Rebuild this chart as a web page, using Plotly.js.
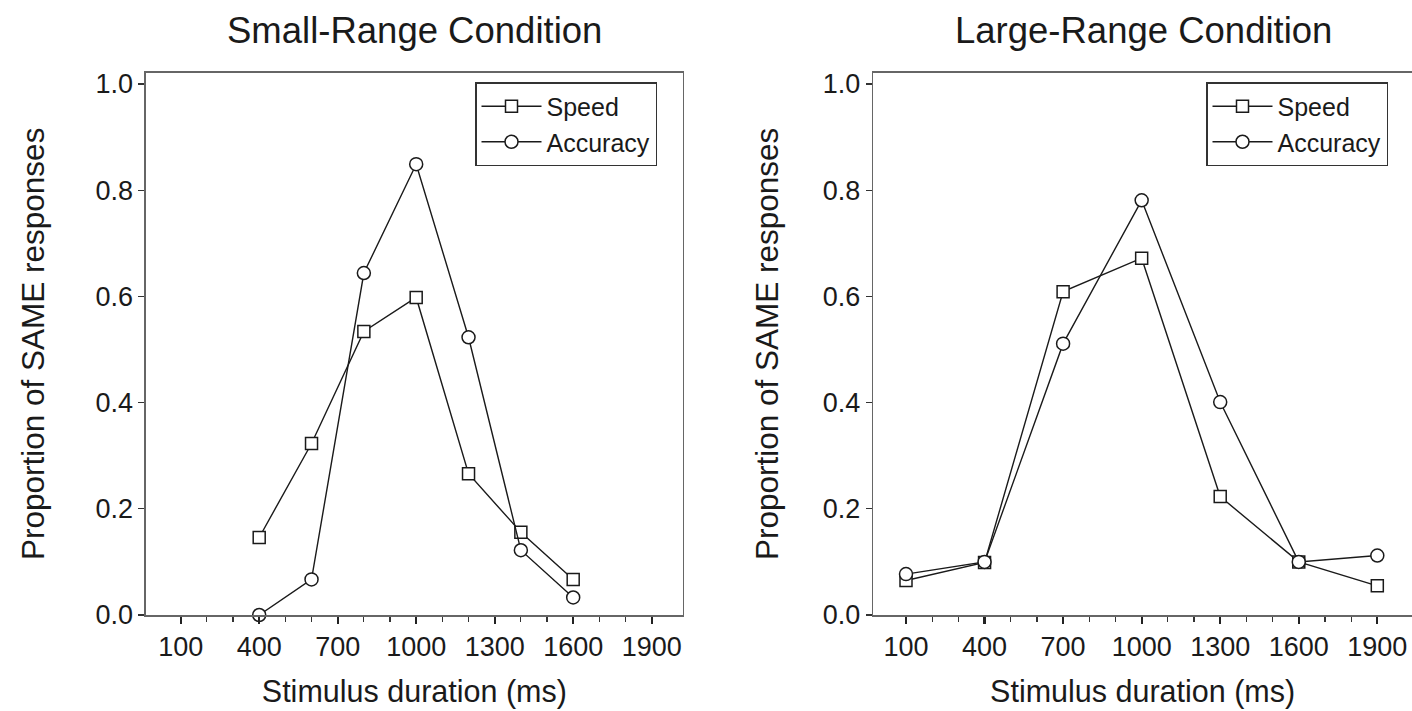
<!DOCTYPE html>
<html>
<head>
<meta charset="utf-8">
<script src="https://cdn.plot.ly/plotly-3.0.1.min.js"></script>
<style>
  html, body { margin: 0; padding: 0; background: #fff; }
  #chart { width: 1412px; height: 711px; }
</style>
</head>
<body>
<div id="chart"></div>
<script>
// ---- data ----
const xSmall = [400, 600, 800, 1000, 1200, 1400, 1600];
const speedSmall = [0.146, 0.323, 0.534, 0.598, 0.266, 0.156, 0.067];
const accuracySmall = [0.0, 0.067, 0.644, 0.849, 0.523, 0.122, 0.033];

const xLarge = [100, 400, 700, 1000, 1300, 1600, 1900];
const speedLarge = [0.065, 0.099, 0.609, 0.672, 0.223, 0.100, 0.055];
const accuracyLarge = [0.077, 0.100, 0.511, 0.781, 0.401, 0.100, 0.112];

const xTickVals = [100, 400, 700, 1000, 1300, 1600, 1900];
const xMinorVals = [200, 300, 500, 600, 800, 900, 1100, 1200, 1400, 1500, 1700, 1800];
const yTickVals = [0, 0.2, 0.4, 0.6, 0.8, 1.0];

const titles = ['Small-Range Condition', 'Large-Range Condition'];
const xTitle = 'Stimulus duration (ms)';
const yTitle = 'Proportion of SAME responses';
const seriesNames = ['Speed', 'Accuracy'];

// ---- styling ----
const FONT = '"Liberation Sans", Arial, Helvetica, sans-serif';
const INK = '#1a1a1a';
const AXIS = '#666666';
const W = 1412, H = 711;

function trace(x, y, name, symbol, size, xa, ya, legend) {
  return {
    type: 'scatter', mode: 'lines+markers',
    x: x, y: y, name: name,
    xaxis: xa, yaxis: ya, legend: legend,
    cliponaxis: false,
    line: { color: INK, width: 1.4 },
    marker: { symbol: symbol, size: size, color: '#ffffff', line: { color: INK, width: 1.5 } }
  };
}

const data = [
  trace(xSmall, speedSmall, seriesNames[0], 'square', 12, 'x', 'y', 'legend'),
  trace(xSmall, accuracySmall, seriesNames[1], 'circle', 13, 'x', 'y', 'legend'),
  trace(xLarge, speedLarge, seriesNames[0], 'square', 12, 'x2', 'y2', 'legend2'),
  trace(xLarge, accuracyLarge, seriesNames[1], 'circle', 13, 'x2', 'y2', 'legend2')
];

function xAxis(domain, range, mirror, anchor) {
  return {
    domain: domain, range: range, anchor: anchor,
    showgrid: false, zeroline: false,
    showline: true, linecolor: AXIS, linewidth: 1.6, mirror: mirror,
    tickmode: 'array', tickvals: xTickVals, ticktext: xTickVals.map(String),
    ticks: 'outside', ticklen: 7, tickwidth: 2.2, tickcolor: '#222',
    tickfont: { family: FONT, size: 27, color: INK },
    minor: { tickmode: 'array', tickvals: xMinorVals, ticks: 'outside', ticklen: 5, tickwidth: 1.2, tickcolor: '#333', showgrid: false },
    title: { text: xTitle, font: { family: FONT, size: 30.5, color: INK }, standoff: 19 },
    fixedrange: true
  };
}
function yAxis(domain, mirror, anchor, standoff) {
  return {
    domain: domain, range: [0, 1.0213], anchor: anchor,
    showgrid: false, zeroline: false,
    showline: true, linecolor: AXIS, linewidth: 1.6, mirror: mirror,
    tickmode: 'array', tickvals: yTickVals, ticktext: yTickVals.map(v => v.toFixed(1)),
    ticks: 'outside', ticklen: 6, tickwidth: 1.3, tickcolor: '#333',
    tickfont: { family: FONT, size: 27, color: INK },
    title: { text: yTitle, font: { family: FONT, size: 31.5, color: INK }, standoff: standoff },
    fixedrange: true
  };
}

const yDom = [(H - 615) / H, (H - 72.7) / H];

const legendBase = {
  xanchor: 'left', yanchor: 'top',
  bgcolor: '#ffffff', bordercolor: '#333', borderwidth: 1.5,
  font: { family: FONT, size: 25, color: INK }, itemwidth: 60, tracegroupgap: 0
};

const layout = {
  width: W, height: H,
  margin: { l: 0, r: 0, t: 0, b: 0 },
  paper_bgcolor: '#ffffff', plot_bgcolor: '#ffffff',
  font: { family: FONT, color: INK },
  showlegend: true,
  xaxis: xAxis([146 / W, 682.7 / W], [-32.6, 2018.5], true, 'y'),
  yaxis: yAxis(yDom, true, 'x', 41),
  xaxis2: xAxis([873.3 / W, 1], [-24.9, 2032.5], true, 'y2'),
  yaxis2: yAxis(yDom, false, 'x2', 35),
  legend: Object.assign({ x: 475 / W, y: (H - 82) / H }, legendBase),
  legend2: Object.assign({ x: 1206 / W, y: (H - 82) / H }, legendBase),
  annotations: [
    { text: titles[0], xref: 'x domain', yref: 'paper', x: 0.5, y: (H - 30) / H,
      xanchor: 'center', yanchor: 'middle', showarrow: false,
      font: { family: FONT, size: 36.5, color: INK } },
    { text: titles[1], xref: 'paper', yref: 'paper', x: 1143 / W, y: (H - 30) / H,
      xanchor: 'center', yanchor: 'middle', showarrow: false,
      font: { family: FONT, size: 36.5, color: INK } }
  ]
};

Plotly.newPlot('chart', data, layout, { displayModeBar: false, staticPlot: true });
</script>
</body>
</html>
